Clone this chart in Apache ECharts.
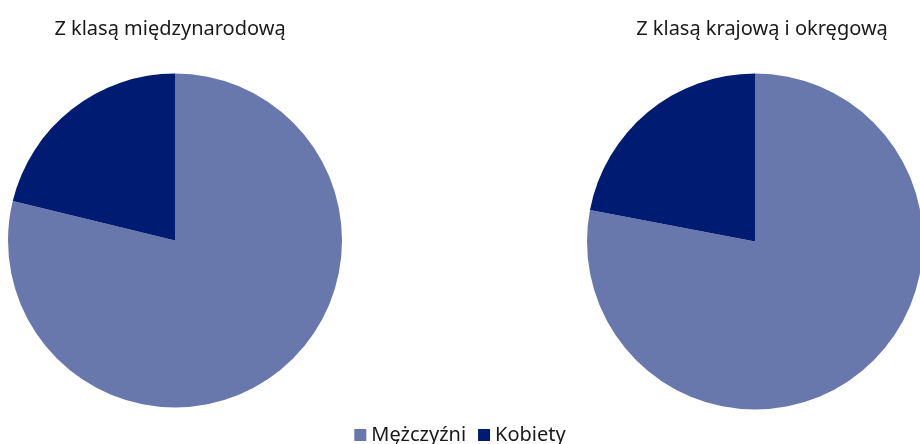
<!DOCTYPE html>
<html>
<head>
<meta charset="utf-8">
<script src="https://cdn.jsdelivr.net/npm/echarts@6/dist/echarts.min.js"></script>
<style>
html,body{margin:0;padding:0;background:#fff;}
#chart{width:920px;height:444px;}
</style>
</head>
<body>
<div id="chart"></div>
<script>
var categories = ['Mężczyźni', 'Kobiety'];
var chartTitles = ['Z klasą międzynarodową', 'Z klasą krajową i okręgową'];
var intlValues = [78.8, 21.2];
var nationalValues = [78.0, 22.0];
var colours = ['#6878ad', '#001c72'];

var myChart = echarts.init(document.getElementById('chart'));

function makeData(vals){
	var out = [];
	for(var i=0;i<categories.length;i++){
		out.push({name: categories[i], value: vals[i]});
	}
	return out;
}

var font = '"Noto Sans", sans-serif';

var option = {
	animation: false,
	color: colours,
	title: [{
		text: chartTitles[0],
		left: 165, top: 14, textAlign: 'center',
		textStyle: {fontFamily: font, fontSize: 20, fontWeight: 'normal', color: '#1a1a1a'}
	},{
		text: chartTitles[1],
		left: 757, top: 14, textAlign: 'center',
		textStyle: {fontFamily: font, fontSize: 20, fontWeight: 'normal', color: '#1a1a1a'}
	}],
	legend: {
		data: categories,
		left: 'center',
		top: 420,
		icon: 'rect',
		itemWidth: 12,
		itemHeight: 12,
		itemGap: 12,
		textStyle: {fontFamily: font, fontSize: 20, color: '#1a1a1a'}
	},
	series: [{
		name: chartTitles[0],
		type: 'pie',
		center: [175, 240.5],
		radius: 167,
		startAngle: 90,
		clockwise: true,
		label: {show: false},
		labelLine: {show: false},
		emphasis: {disabled: true},
		data: makeData(intlValues)
	},{
		name: chartTitles[1],
		type: 'pie',
		center: [755, 241.5],
		radius: 168,
		startAngle: 90,
		clockwise: true,
		label: {show: false},
		labelLine: {show: false},
		emphasis: {disabled: true},
		data: makeData(nationalValues)
	}]
};
myChart.setOption(option);
window.onresize = myChart.resize;
</script>
</body>
</html>
